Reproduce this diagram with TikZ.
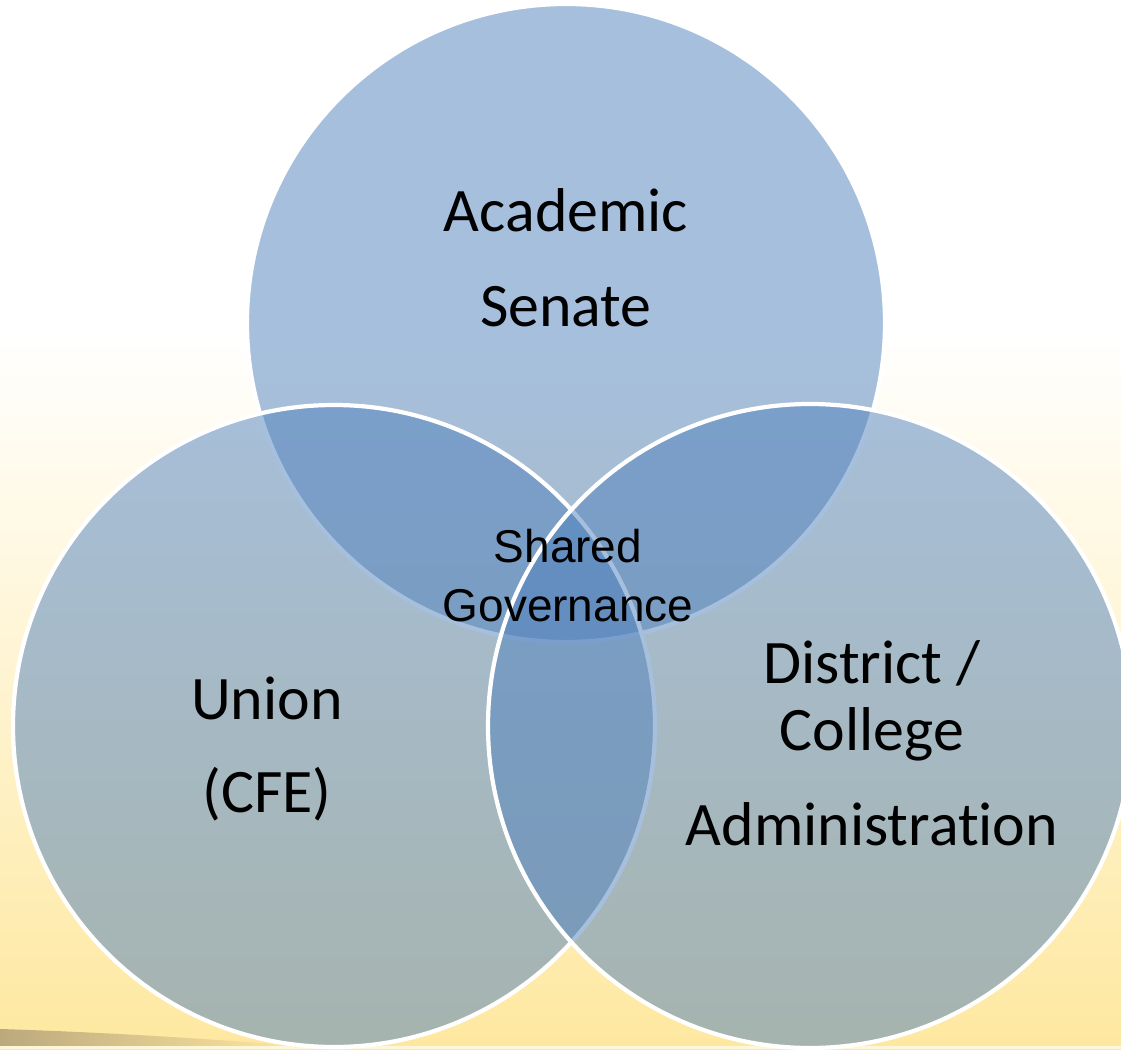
\documentclass[tikz,border=0pt]{standalone}
\usepackage{fontspec}
\setmainfont{Carlito}[Ligatures=NoCommon]
\newfontfamily\arialfont{Liberation Sans}
\usepackage{tikz}
\usetikzlibrary{shapes.geometric}
\definecolor{setblue}{HTML}{4F81BD}
\definecolor{sandy}{HTML}{FEE8A0}
\definecolor{smudge}{HTML}{857560}
\tikzstyle{group} = [circle, draw=white, line width=3pt, fill=setblue, fill opacity=0.5, text opacity=1]
\tikzstyle{label} = [align=center, text=black, font=\fontsize{44}{47.7}\selectfont]
\tikzstyle{core} = [align=center, text=black, font=\arialfont\fontsize{32.7}{42}\selectfont]

\begin{document}
\begin{tikzpicture}
\useasboundingbox (0,0) rectangle (28.025,26.225);
\clip (0,0) rectangle (28.025,26.225);
% background: white fading into sand towards the bottom
\fill[white] (0,0) rectangle (28.025,26.225);
\shade[top color=white, bottom color=sandy] (0,0) rectangle (28.025,17.975);
\shade[left color=smudge!55!sandy, middle color=smudge!90!sandy, right color=sandy] (0,0.08) -- (0,0.5) .. controls (2.5,0.42) and (4.5,0.3) .. (7.5,0.08) -- cycle;
\fill[white!60!sandy] (0,0) rectangle (28.025,0.08);
% the three bodies
\node (senate) [group, minimum size=15.95cm] at (14.15,18.15) {};
\node (union) [group, minimum size=16.05cm] at (8.35,8.075) {};
\node (admin) [group, minimum size=16.1cm] at (20.25,8.075) {};
% labels
\node (senatetext) [label] at (14.15,19.775) {Academic\\[20pt]Senate};
\node (uniontext) [label] at (6.675,7.5) {Union\\[18pt](CFE)};
\node (admintext) [label] at (21.8,7.6375) {District /\\College\\[20pt]Administration};
\node (shared) [core] at (14.2,11.8375) {Shared\\Governance};
\end{tikzpicture}
\end{document}
